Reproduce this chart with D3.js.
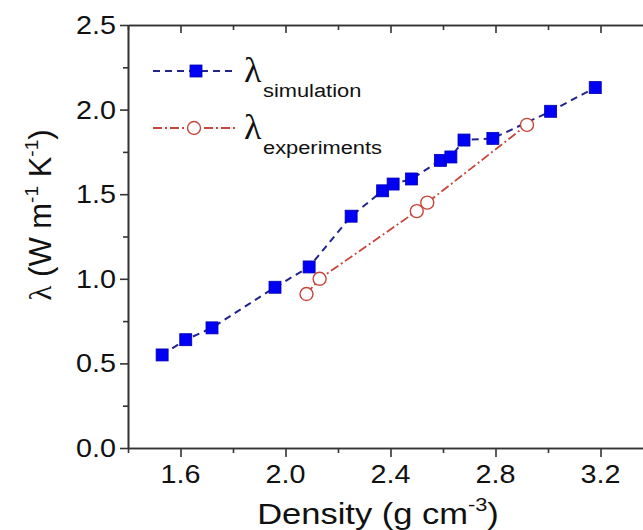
<!DOCTYPE html>
<html><head><meta charset="utf-8">
<script src="https://cdn.jsdelivr.net/npm/d3@7"></script>
<style>body{margin:0;background:#fff}svg{display:block}</style></head>
<body>
<script>
// ---- data ----
const simDensity = [1.53, 1.62, 1.72, 1.96, 2.09, 2.25, 2.37, 2.41, 2.48, 2.59, 2.63, 2.68, 2.79, 3.01, 3.18];
const simLambda  = [0.55, 0.64, 0.71, 0.95, 1.07, 1.37, 1.52, 1.56, 1.59, 1.70, 1.72, 1.82, 1.83, 1.99, 2.13];
const expDensity = [2.08, 2.13, 2.50, 2.54, 2.92];
const expLambda  = [0.91, 1.00, 1.40, 1.45, 1.91];
const xMajorTicks = [1.6, 2.0, 2.4, 2.8, 3.2];
const xMinorTicks = [1.4, 1.8, 2.2, 2.6, 3.0, 3.4];
const yMajorTicks = [0.0, 0.5, 1.0, 1.5, 2.0, 2.5];
const yMinorTicks = [0.25, 0.75, 1.25, 1.75, 2.25];
const seriesNames = ["simulation", "experiments"];

const W = 643, H = 530;
const m = {left: 128, top: 25};
const x = d3.scaleLinear().domain([1.4, 3.4]).range([128, 653]);
const y = d3.scaleLinear().domain([0, 2.5]).range([448, 25]);
const SX = 1.15; // horizontal stretch of text in reference

const svg = d3.select("body").append("svg").attr("width", W).attr("height", H);
const axisColor = "#333";
const font = "Liberation Sans, Arial, sans-serif";

function stretchedText(g, px, py, str, size, anchor) {
  return g.append("text")
    .attr("transform", `translate(${px},${py}) scale(${SX},1)`)
    .attr("text-anchor", anchor)
    .attr("font-family", font).attr("font-size", size).attr("fill", "#111")
    .text(str);
}

// axes
function styleAxis(sel) {
  sel.selectAll("path").attr("stroke", axisColor).attr("stroke-width", 1.6);
  sel.selectAll("line").attr("stroke", axisColor).attr("stroke-width", 1.6);
  sel.selectAll("text").remove();
}
svg.append("g").attr("transform", "translate(0,448)")
  .call(d3.axisBottom(x).tickValues(xMajorTicks).tickSize(9).tickSizeOuter(0)).call(styleAxis);
svg.append("g").attr("transform", "translate(0,448)")
  .call(d3.axisBottom(x).tickValues(xMinorTicks).tickSize(5).tickSizeOuter(0)).call(styleAxis);
svg.append("g").attr("transform", "translate(0,25)")
  .call(d3.axisBottom(x).tickValues(xMajorTicks).tickSize(8).tickSizeOuter(0)).call(styleAxis);
svg.append("g").attr("transform", "translate(0,25)")
  .call(d3.axisBottom(x).tickValues(xMinorTicks).tickSize(5).tickSizeOuter(0)).call(styleAxis);
svg.append("g").attr("transform", "translate(128,0)")
  .call(d3.axisLeft(y).tickValues(yMajorTicks).tickSize(8).tickSizeOuter(0)).call(styleAxis);
svg.append("g").attr("transform", "translate(128,0)")
  .call(d3.axisLeft(y).tickValues(yMinorTicks).tickSize(5).tickSizeOuter(0)).call(styleAxis);
svg.append("g").attr("transform", "translate(653,0)")
  .call(d3.axisLeft(y).tickValues(yMajorTicks).tickSize(-8).tickSizeOuter(0)).call(styleAxis);

// tick labels
const fmt = d3.format(".1f");
const lg = svg.append("g");
xMajorTicks.forEach(v => stretchedText(lg, x(v), 483, fmt(v), 25, "middle"));
yMajorTicks.forEach(v => stretchedText(lg, 116, y(v) + 9, fmt(v), 25, "end"));

// axis titles
const xt = svg.append("text")
  .attr("transform", `translate(378,524) scale(${SX},1)`)
  .attr("text-anchor", "middle").attr("font-family", font).attr("font-size", 30).attr("fill", "#111");
xt.append("tspan").text("Density (g cm");
xt.append("tspan").attr("font-size", 19).attr("dy", -13).text("-3");
xt.append("tspan").attr("dy", 13).text(")");

const yt = svg.append("text")
  .attr("transform", `translate(51,215) rotate(-90)`)
  .attr("text-anchor", "middle").attr("font-family", font).attr("font-size", 31).attr("fill", "#111");
yt.append("tspan").attr("font-family", "Liberation Serif, serif").text("λ");
yt.append("tspan").text(" (W m");
yt.append("tspan").attr("font-size", 19).attr("dy", -13).text("-1");
yt.append("tspan").attr("dy", 13).text(" K");
yt.append("tspan").attr("font-size", 19).attr("dy", -13).text("-1");
yt.append("tspan").attr("dy", 13).text(")");

// lines
const simColor = "#24248f", expColor = "#c8453c";
const line = d3.line().x(d => x(d[0])).y(d => y(d[1]));
const simData = simDensity.map((d, i) => [d, simLambda[i]]);
const expData = expDensity.map((d, i) => [d, expLambda[i]]);
svg.append("path").datum(simData).attr("d", line).attr("fill", "none")
  .attr("stroke", simColor).attr("stroke-width", 2).attr("stroke-dasharray", "7,5");
svg.append("path").datum(expData).attr("d", line).attr("fill", "none")
  .attr("stroke", expColor).attr("stroke-width", 1.8).attr("stroke-dasharray", "9,3,2,3");

// markers
const S = 12;
svg.append("g").selectAll("rect").data(simData).join("rect")
  .attr("x", d => x(d[0]) - S / 2).attr("y", d => y(d[1]) - S / 2)
  .attr("width", S).attr("height", S)
  .attr("fill", "#0000f5").attr("stroke", "#0000b0").attr("stroke-width", 0.8);
svg.append("g").selectAll("circle").data(expData).join("circle")
  .attr("cx", d => x(d[0])).attr("cy", d => y(d[1])).attr("r", 6.5)
  .attr("fill", "#fff").attr("stroke", expColor).attr("stroke-width", 1.4);

// legend
const leg = svg.append("g");
leg.append("line").attr("x1", 153).attr("x2", 235).attr("y1", 71).attr("y2", 71)
  .attr("stroke", simColor).attr("stroke-width", 2).attr("stroke-dasharray", "7,5");
leg.append("rect").attr("x", 196 - S / 2).attr("y", 71 - S / 2).attr("width", S).attr("height", S)
  .attr("fill", "#0000f5").attr("stroke", "#0000b0").attr("stroke-width", 0.8);
leg.append("line").attr("x1", 153).attr("x2", 235).attr("y1", 128).attr("y2", 128)
  .attr("stroke", expColor).attr("stroke-width", 1.8).attr("stroke-dasharray", "9,3,2,3");
leg.append("circle").attr("cx", 194).attr("cy", 128).attr("r", 6.5)
  .attr("fill", "#fff").attr("stroke", expColor).attr("stroke-width", 1.4);

[[82, 97, seriesNames[0]], [139, 154, seriesNames[1]]].forEach(([by, sy, name]) => {
  leg.append("text").attr("x", 244).attr("y", by)
    .attr("font-family", "Liberation Serif, serif").attr("font-size", 36).attr("fill", "#111").text("λ");
  leg.append("text").attr("transform", `translate(263,${sy}) scale(${SX},1)`)
    .attr("font-family", font).attr("font-size", 19).attr("fill", "#111").text(name);
});
</script>
</body></html>
